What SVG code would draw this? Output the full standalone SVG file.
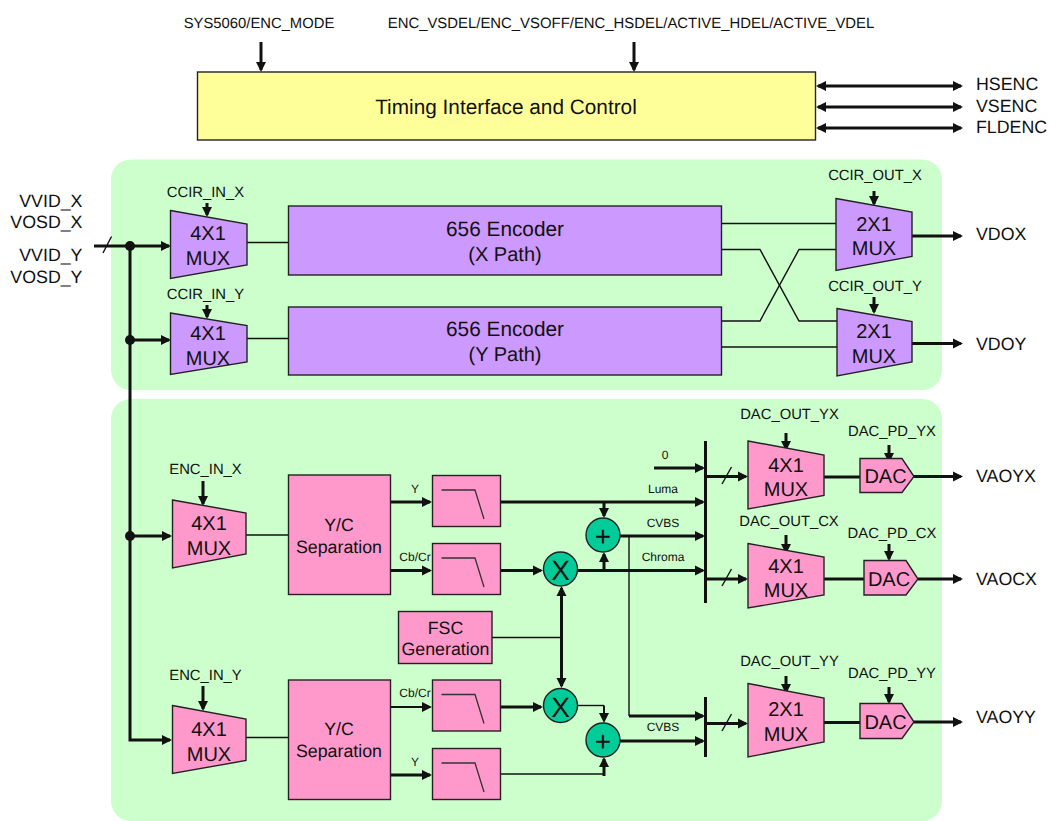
<svg xmlns="http://www.w3.org/2000/svg" width="1049" height="821" viewBox="0 0 1049 821">
<style>
text{font-family:"Liberation Sans",Arial,sans-serif;fill:#111;text-rendering:geometricPrecision}
.t21{font-size:20.8px;text-anchor:middle}
.t20{font-size:20px;text-anchor:middle}
.t18{font-size:17.8px;text-anchor:middle}
.l18{font-size:17.8px}
.e18{font-size:17.8px;text-anchor:end}
.t15{font-size:14.8px;text-anchor:middle}
.t15w{font-size:14.9px;text-anchor:middle}
.t12{font-size:12px;text-anchor:middle}
.big{font-size:28px;text-anchor:middle}
.box{stroke:#222;stroke-width:1.4}
.pur{fill:#cc99ff}
.pnk{fill:#ff99cc}
.yel{fill:#ffff99}
.grn{fill:#00cc99}
.w1,.w2,.w3{fill:none;stroke:#111}
.w1{stroke-width:1.4}
.w2{stroke-width:2}
.w3{stroke-width:3}
.ar{marker-end:url(#a)}
.bi{marker-start:url(#a);marker-end:url(#a)}
.flt{fill:none;stroke:#333;stroke-width:1.3}
</style>
<defs>
<marker id="a" markerUnits="userSpaceOnUse" markerWidth="11" markerHeight="11" refX="8" refY="5.5" orient="auto-start-reverse"><path d="M0 .5L10 5.5L0 10.5z" fill="#111"/></marker>
</defs>

<g id="panels">
<rect x="111" y="159.500" width="831" height="230.500" rx="20" fill="#ccffcc"/>
<rect x="111" y="399" width="831" height="422" rx="20" fill="#ccffcc"/>
</g>

<g id="connectors">
<path class="w3 ar" d="M261 42V70"/>
<path class="w3 ar" d="M634 42V70"/>
<path class="w3 bi" d="M818 86H961"/>
<path class="w3 bi" d="M818 107H961"/>
<path class="w3 bi" d="M818 128H961"/>

<path class="w3" d="M94 246H130"/>
<path class="w1" d="M103 253L111.500 236.500"/>
<path class="w3 ar" d="M130 246H169"/>
<path class="w3 ar" d="M130 340H169"/>
<path class="w3 ar" d="M130 536H170"/>
<path class="w3 ar" d="M130 246V740H170"/>
<path class="w3 ar" d="M207 203V215"/>
<path class="w3 ar" d="M207 305V317"/>
<path class="w3 ar" d="M874 191V204"/>
<path class="w3 ar" d="M874 297V312"/>
<path class="w3 ar" d="M203 481V504"/>
<path class="w3 ar" d="M203 686V709"/>
<path class="w1" d="M247 242.500H288"/>
<path class="w1" d="M247 338.500H288"/>
<path class="w1" d="M722 223.500H836"/>
<path class="w1" d="M722 249.500H760L799 321H837"/>
<path class="w1" d="M722 321H760L799 249.500H836"/>
<path class="w1" d="M722 347H837"/>
<path class="w3 ar" d="M912 236H961"/>
<path class="w3 ar" d="M912 343.500H961"/>

<path class="w1" d="M246 535H288"/>
<path class="w1" d="M246 737.500H288"/>
<path class="w3 ar" d="M390 502H430"/>
<path class="w3 ar" d="M390 570.500H430"/>
<path class="w2 ar" d="M390 707H430"/>
<path class="w3 ar" d="M390 775H430"/>
<path class="w3 ar" d="M501 570.500H541"/>
<path class="w3 ar" d="M501 707H541"/>
<path class="w1" d="M492 637.500H561"/>
<path class="w3 bi" d="M561.500 588V686"/>
<path class="w3 ar" d="M654 468H703"/>
<path class="w3 ar" d="M501 502H703"/>
<path class="w3 ar" d="M620 536H703"/>
<path class="w3 ar" d="M578 570.500H703"/>
<path class="w3 ar" d="M604 502V516"/>
<path class="w3 ar" d="M604 570.500V554"/>
<path class="w1" d="M629 536V716"/>
<path class="w3 ar" d="M629 716H703"/>
<path class="w1" d="M578 705.500H604"/>
<path class="w2 ar" d="M604 705.500V721"/>
<path class="w3 ar" d="M620 741H703"/>
<path class="w1" d="M501 774H604"/>
<path class="w3 ar" d="M604 776V759"/>
<path class="w3" d="M705.500 441V603"/>
<path class="w3" d="M705.500 697V757"/>
<path class="w3 ar" d="M706 476.500H746"/>
<path class="w3 ar" d="M706 579H746"/>
<path class="w3 ar" d="M706 723.500H746"/>
<path class="w1" d="M722 484L731.500 467"/>
<path class="w1" d="M722 586L731.500 569"/>
<path class="w1" d="M722 731L731.500 714"/>
<path class="w3 ar" d="M786 433V449"/>
<path class="w3 ar" d="M786 535V552"/>
<path class="w3 ar" d="M786 676V692"/>
<path class="w3 ar" d="M889 445V461"/>
<path class="w3 ar" d="M889 544V559"/>
<path class="w3 ar" d="M889 687V702"/>
<path class="w3" d="M824 477H860"/>
<path class="w3" d="M824 579H864"/>
<path class="w3" d="M824 722.500H860"/>
<path class="w3 ar" d="M914 476.500H961"/>
<path class="w3 ar" d="M918 579H961"/>
<path class="w3 ar" d="M914 722H961"/>
</g>

<g id="junctions" fill="#111">
<circle cx="130" cy="246" r="5"/>
<circle cx="130" cy="340" r="5"/>
<circle cx="130" cy="536" r="5"/>
</g>

<g id="timing"><rect class="box yel" x="197.500" y="72" width="618" height="68"/><text class="t21" x="506" y="114">Timing Interface and Control</text></g>

<g id="mux-ccir-x"><path class="box pur" d="M170.500 210.500L247 224V265L170.500 278.500z"/><text class="t20" x="208" y="240">4X1</text><text class="t20" x="208" y="265">MUX</text></g>
<g id="mux-ccir-y"><path class="box pur" d="M170.500 313L247 325.500V362L170.500 374.500z"/><text class="t20" x="208" y="340">4X1</text><text class="t20" x="208" y="365">MUX</text></g>
<g id="enc-x"><rect class="box pur" x="288.500" y="206" width="433" height="69"/><text class="t21" x="505" y="236">656 Encoder</text><text class="t20" x="505" y="261">(X Path)</text></g>
<g id="enc-y"><rect class="box pur" x="288.500" y="307" width="433" height="68"/><text class="t21" x="505" y="336">656 Encoder</text><text class="t20" x="505" y="361">(Y Path)</text></g>
<g id="mux-out-x"><path class="box pur" d="M836 198.500L912 212V256.500L836 270.500z"/><text class="t20" x="874" y="231">2X1</text><text class="t20" x="874" y="255">MUX</text></g>
<g id="mux-out-y"><path class="box pur" d="M837 308.500L912 321.500V362L837 376z"/><text class="t20" x="874" y="338">2X1</text><text class="t20" x="874" y="363">MUX</text></g>

<g id="mux-enc-x"><path class="box pnk" d="M172.500 500L246 513V554L172.500 568z"/><text class="t20" x="209" y="530">4X1</text><text class="t20" x="209" y="555">MUX</text></g>
<g id="mux-enc-y"><path class="box pnk" d="M172.500 705.500L246 719V760.500L172.500 773.500z"/><text class="t20" x="209" y="736">4X1</text><text class="t20" x="209" y="761">MUX</text></g>
<g id="yc-x"><rect class="box pnk" x="288.500" y="475" width="102" height="119.500"/><text class="t18" x="339" y="531">Y/C</text><text class="t18" x="339" y="553">Separation</text></g>
<g id="yc-y"><rect class="box pnk" x="288.500" y="680" width="102" height="119.500"/><text class="t18" x="339" y="735">Y/C</text><text class="t18" x="339" y="757">Separation</text></g>
<g id="fsc"><rect class="box pnk" x="398.500" y="611.500" width="93.500" height="52"/><text class="t18" x="445.500" y="634">FSC</text><text class="t18" x="445.500" y="655">Generation</text></g>

<g id="lpf-1"><rect class="box pnk" x="432.500" y="475.500" width="68" height="51"/><path class="flt" d="M441.500 490H475L484 519"/></g>
<g id="lpf-2"><rect class="box pnk" x="432.500" y="543.500" width="68" height="51"/><path class="flt" d="M441.500 558H475L484 587"/></g>
<g id="lpf-3"><rect class="box pnk" x="432.500" y="680" width="68" height="51"/><path class="flt" d="M441.500 694.500H475L484 723.500"/></g>
<g id="lpf-4"><rect class="box pnk" x="432.500" y="748.500" width="68" height="51"/><path class="flt" d="M441.500 763H475L484 792"/></g>

<g id="mult-1"><circle class="box grn" cx="560.500" cy="569" r="17"/><text class="big" x="560.500" y="580">X</text></g>
<g id="mult-2"><circle class="box grn" cx="560.500" cy="705.500" r="17"/><text class="big" x="560.500" y="716.500">X</text></g>
<g id="sum-1"><circle class="box grn" cx="603" cy="535" r="17"/><text class="big" x="603" y="546">+</text></g>
<g id="sum-2"><circle class="box grn" cx="603" cy="740" r="17"/><text class="big" x="603" y="751">+</text></g>

<g id="mux-dac-yx"><path class="box pnk" d="M748 441L824 455V495.500L748 509z"/><text class="t20" x="786" y="472">4X1</text><text class="t20" x="786" y="496">MUX</text></g>
<g id="mux-dac-cx"><path class="box pnk" d="M748 543.500L824 557V595L748 608z"/><text class="t20" x="786" y="573">4X1</text><text class="t20" x="786" y="597">MUX</text></g>
<g id="mux-dac-yy"><path class="box pnk" d="M748 683.500L824 698V742L748 757z"/><text class="t20" x="786" y="716">2X1</text><text class="t20" x="786" y="741">MUX</text></g>
<g id="dac-yx"><path class="box pnk" d="M860 458.500H902L914 476.500L902 492.500H860z"/><text class="t20" x="885.500" y="483">DAC</text></g>
<g id="dac-cx"><path class="box pnk" d="M864 560.500H906L918 579L906 595H864z"/><text class="t20" x="889" y="586">DAC</text></g>
<g id="dac-yy"><path class="box pnk" d="M860 703.500H902L914 722L902 738.500H860z"/><text class="t20" x="885.500" y="729">DAC</text></g>

<g id="labels">
<text class="t15" x="259" y="28">SYS5060/ENC_MODE</text>
<text class="t15w" x="631" y="28">ENC_VSDEL/ENC_VSOFF/ENC_HSDEL/ACTIVE_HDEL/ACTIVE_VDEL</text>
<text class="l18" x="976" y="90">HSENC</text>
<text class="l18" x="976" y="112">VSENC</text>
<text class="l18" x="976" y="133">FLDENC</text>
<text class="e18" x="82.500" y="207">VVID_X</text>
<text class="e18" x="82.500" y="228">VOSD_X</text>
<text class="e18" x="82.500" y="261">VVID_Y</text>
<text class="e18" x="82.500" y="283">VOSD_Y</text>
<text class="t15" x="205.500" y="197">CCIR_IN_X</text>
<text class="t15" x="205.500" y="299">CCIR_IN_Y</text>
<text class="t15" x="875" y="180">CCIR_OUT_X</text>
<text class="t15" x="875" y="291">CCIR_OUT_Y</text>
<text class="l18" x="976" y="240">VDOX</text>
<text class="l18" x="976" y="350">VDOY</text>
<text class="t15" x="205.500" y="474">ENC_IN_X</text>
<text class="t15" x="205.500" y="680">ENC_IN_Y</text>
<text class="t12" x="415" y="493">Y</text>
<text class="t12" x="415" y="561">Cb/Cr</text>
<text class="t12" x="415" y="697">Cb/Cr</text>
<text class="t12" x="415" y="766">Y</text>
<text class="t12" x="665" y="459">0</text>
<text class="t12" x="663" y="493">Luma</text>
<text class="t12" x="663" y="527">CVBS</text>
<text class="t12" x="663" y="561">Chroma</text>
<text class="t12" x="663" y="731">CVBS</text>
<text class="t15" x="789.500" y="419">DAC_OUT_YX</text>
<text class="t15" x="892" y="436">DAC_PD_YX</text>
<text class="t15" x="789" y="526">DAC_OUT_CX</text>
<text class="t15" x="892" y="538">DAC_PD_CX</text>
<text class="t15" x="789.500" y="666">DAC_OUT_YY</text>
<text class="t15" x="892" y="678">DAC_PD_YY</text>
<text class="l18" x="976" y="482">VAOYX</text>
<text class="l18" x="976" y="585">VAOCX</text>
<text class="l18" x="976" y="723">VAOYY</text>
</g>
</svg>
